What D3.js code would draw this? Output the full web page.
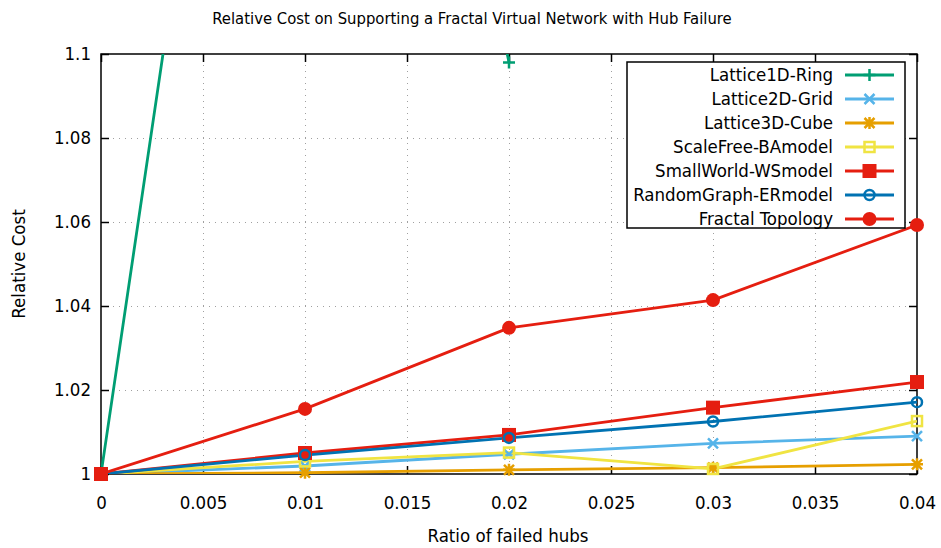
<!DOCTYPE html>
<html>
<head>
<meta charset="utf-8">
<script src="https://cdn.jsdelivr.net/npm/d3@7"></script>
<style>
  body { margin: 0; background: #fff; }
  text { font-family: "DejaVu Sans Condensed", "DejaVu Sans", sans-serif; fill: #000; }
</style>
</head>
<body>
<svg id="chart" width="941" height="548"></svg>
<script>
// data
const ratios = [0, 0.01, 0.02, 0.03, 0.04];
const lattice1D = [1, 1.329, 1.098];
const lattice2D = [1, 1.0019, 1.0047, 1.0073, 1.009];
const lattice3D = [1, 1.0003, 1.001, 1.0015, 1.0023];
const scaleFree = [1, 1.003, 1.0051, 1.0012, 1.0126];
const smallWorld = [1, 1.005, 1.0093, 1.0158, 1.0219];
const randomGraph = [1, 1.0045, 1.0086, 1.0125, 1.0171];
const fractal = [1, 1.0155, 1.0348, 1.0414, 1.0593];
const xTicks = [0, 0.005, 0.01, 0.015, 0.02, 0.025, 0.03, 0.035, 0.04];
const yTicks = [1, 1.02, 1.04, 1.06, 1.08, 1.1];

const series = [
  {name: "Lattice1D-Ring", values: lattice1D, color: "#009e73", marker: "plus"},
  {name: "Lattice2D-Grid", values: lattice2D, color: "#56b4e9", marker: "cross"},
  {name: "Lattice3D-Cube", values: lattice3D, color: "#e69f00", marker: "star"},
  {name: "ScaleFree-BAmodel", values: scaleFree, color: "#f0e442", marker: "osquare"},
  {name: "SmallWorld-WSmodel", values: smallWorld, color: "#e51e10", marker: "fsquare"},
  {name: "RandomGraph-ERmodel", values: randomGraph, color: "#0072b2", marker: "ocircle"},
  {name: "Fractal Topology", values: fractal, color: "#e51e10", marker: "fcircle"}
];

const margin = {left: 101, right: 24, top: 54, bottom: 74};
const W = 941, H = 548;
const FS = 18.5;
const svg = d3.select("#chart");

const x = d3.scaleLinear().domain([0, 0.04]).range([margin.left, W - margin.right]);
const y = d3.scaleLinear().domain([1, 1.1]).range([H - margin.bottom, margin.top]);

// grid
const grid = svg.append("g").attr("stroke", "#a0a0a0").attr("stroke-width", 1).attr("stroke-dasharray", "1,5");
grid.selectAll(".gx").data(xTicks.slice(1, -1)).join("line")
  .attr("x1", d => Math.round(x(d)) + 0.5).attr("x2", d => Math.round(x(d)) + 0.5)
  .attr("y1", y(1)).attr("y2", y(1.1));
grid.selectAll(".gy").data(yTicks.slice(1, -1)).join("line")
  .attr("y1", d => Math.round(y(d)) + 0.5).attr("y2", d => Math.round(y(d)) + 0.5)
  .attr("x1", x(0)).attr("x2", x(0.04));

// axes with inward ticks, mirrored
const fmt = d => d3.format("")(+d.toFixed(3));
const axB = svg.append("g").attr("transform", `translate(0,${y(1)})`)
  .call(d3.axisBottom(x).tickValues(xTicks).tickSize(-8).tickPadding(22).tickFormat(fmt));
const axT = svg.append("g").attr("transform", `translate(0,${y(1.1)})`)
  .call(d3.axisTop(x).tickValues(xTicks).tickSize(-8).tickFormat(""));
const axL = svg.append("g").attr("transform", `translate(${x(0)},0)`)
  .call(d3.axisLeft(y).tickValues(yTicks).tickSize(-8).tickPadding(10).tickFormat(fmt));
const axR = svg.append("g").attr("transform", `translate(${x(0.04)},0)`)
  .call(d3.axisRight(y).tickValues(yTicks).tickSize(-8).tickFormat(""));
[axB, axT, axL, axR].forEach(a => {
  a.select(".domain").remove();
  a.selectAll(".tick line").attr("stroke", "#000").attr("stroke-width", 1.5);
  a.selectAll("text").attr("font-size", FS).attr("font-family", null);
});

svg.append("rect").attr("x", x(0)).attr("y", y(1.1))
  .attr("width", x(0.04) - x(0)).attr("height", y(1) - y(1.1))
  .attr("fill", "none").attr("stroke", "#000").attr("stroke-width", 1.5);

// clip
svg.append("clipPath").attr("id", "clip").append("rect")
  .attr("x", x(0)).attr("y", y(1.1)).attr("width", x(0.04) - x(0)).attr("height", y(1) - y(1.1));

function drawMarker(g, type, color) {
  const s = 6;
  if (type === "plus") {
    g.append("path").attr("d", `M${-s},0H${s}M0,${-s}V${s}`).attr("stroke", color).attr("stroke-width", 2.5);
  } else if (type === "cross") {
    g.append("path").attr("d", `M${-s+1},${-s+1}L${s-1},${s-1}M${-s+1},${s-1}L${s-1},${-s+1}`).attr("stroke", color).attr("stroke-width", 2.5);
  } else if (type === "star") {
    g.append("path").attr("d", `M${-s},0H${s}M0,${-s}V${s}M${-s+1},${-s+1}L${s-1},${s-1}M${-s+1},${s-1}L${s-1},${-s+1}`).attr("stroke", color).attr("stroke-width", 2.5);
  } else if (type === "osquare") {
    g.append("rect").attr("x", -s + 1).attr("y", -s + 1).attr("width", 2 * s - 2).attr("height", 2 * s - 2)
      .attr("fill", "none").attr("stroke", color).attr("stroke-width", 2.5);
  } else if (type === "fsquare") {
    g.append("rect").attr("x", -s - 1).attr("y", -s - 1).attr("width", 2 * s + 2).attr("height", 2 * s + 2).attr("fill", color);
  } else if (type === "ocircle") {
    g.append("circle").attr("r", s - 1).attr("fill", "none").attr("stroke", color).attr("stroke-width", 2.5);
  } else if (type === "fcircle") {
    g.append("circle").attr("r", s + 1).attr("fill", color);
  }
}

const line = d3.line().x((d, i) => x(ratios[i])).y(d => y(d));
const plot = svg.append("g").attr("clip-path", "url(#clip)");
series.forEach(s => {
  plot.append("path").datum(s.values).attr("d", line)
    .attr("fill", "none").attr("stroke", s.color).attr("stroke-width", 2.8).attr("stroke-linejoin", "round");
});
const markers = svg.append("g");
series.forEach(s => {
  s.values.forEach((v, i) => {
    if (v > 1.1) return;
    drawMarker(markers.append("g").attr("transform", `translate(${x(ratios[i])},${y(v)})`), s.marker, s.color);
  });
});

// legend
const leg = svg.append("g");
leg.append("rect").attr("x", 627).attr("y", 62).attr("width", 278).attr("height", 166)
  .attr("fill", "#fff").attr("stroke", "#000").attr("stroke-width", 1.5);
series.forEach((s, i) => {
  const ly = 75 + i * 24;
  leg.append("text").attr("x", 833).attr("y", ly).attr("dy", "0.35em")
    .attr("text-anchor", "end").attr("font-size", FS).text(s.name);
  leg.append("line").attr("x1", 845).attr("x2", 894).attr("y1", ly).attr("y2", ly)
    .attr("stroke", s.color).attr("stroke-width", 2.8);
  drawMarker(leg.append("g").attr("transform", `translate(869.5,${ly})`), s.marker, s.color);
});

// titles
svg.append("text").attr("x", 472).attr("y", 24).attr("text-anchor", "middle").attr("font-size", 16.5)
  .text("Relative Cost on Supporting a Fractal Virtual Network with Hub Failure");
svg.append("text").attr("x", 508).attr("y", 542).attr("text-anchor", "middle").attr("font-size", FS)
  .text("Ratio of failed hubs");
svg.append("text").attr("transform", "translate(25,264) rotate(-90)").attr("text-anchor", "middle").attr("font-size", FS)
  .text("Relative Cost");
</script>
</body>
</html>
